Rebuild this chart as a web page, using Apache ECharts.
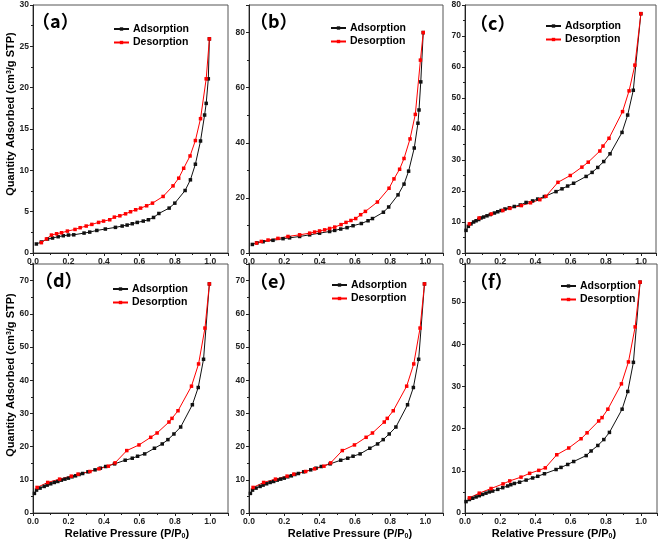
<!DOCTYPE html>
<html><head><meta charset="utf-8">
<script src="https://cdn.jsdelivr.net/npm/echarts@6/dist/echarts.min.js"></script>
<style>html,body{margin:0;padding:0;background:#fff}#c{width:661px;height:542px}</style>
</head><body><div id="c"></div>
<script>
// ---- data (P/P0, quantity adsorbed cm3/g STP) ----
const aAdsX=[0.019,0.047,0.082,0.11,0.142,0.171,0.2,0.23,0.288,0.32,0.36,0.408,0.465,0.503,0.531,0.56,0.588,0.622,0.651,0.68,0.71,0.768,0.8,0.858,0.888,0.916,0.945,0.968,0.977,0.989,0.995];
const aAdsY=[1.09,1.33,1.69,1.81,1.97,2.09,2.17,2.2,2.41,2.53,2.73,2.9,3.1,3.26,3.38,3.54,3.7,3.86,4.02,4.3,4.78,5.43,6.03,7.56,8.85,10.74,13.55,16.69,18.1,21.07,25.9];
const aDesX=[0.995,0.977,0.945,0.916,0.886,0.85,0.822,0.79,0.734,0.674,0.641,0.607,0.579,0.55,0.522,0.49,0.459,0.433,0.398,0.37,0.332,0.3,0.266,0.237,0.194,0.161,0.133,0.104,0.076,0.047];
const aDesY=[25.9,21.07,16.25,13.6,11.74,10.25,9.05,8.12,6.84,6.03,5.71,5.43,5.23,4.99,4.74,4.5,4.34,4.02,3.86,3.7,3.46,3.26,3.06,2.85,2.65,2.45,2.33,2.17,1.7,1.25];

const bAdsX=[0.019,0.045,0.08,0.136,0.193,0.23,0.287,0.344,0.4,0.457,0.486,0.52,0.556,0.59,0.637,0.675,0.70,0.762,0.792,0.845,0.879,0.905,0.937,0.958,0.964,0.974,0.988];
const bAdsY=[3.1,3.7,4.1,4.6,5.2,5.5,6.0,6.6,7.2,7.8,8.2,8.7,9.2,9.9,10.7,11.7,12.5,14.8,16.7,21.1,25.0,29.7,38.1,47.1,51.9,62.1,80];
const bDesX=[0.988,0.972,0.943,0.913,0.879,0.854,0.822,0.794,0.728,0.66,0.633,0.605,0.578,0.55,0.522,0.486,0.457,0.429,0.4,0.372,0.344,0.287,0.221,0.164,0.108,0.07,0.042];
const bDesY=[80,70,50.3,41.4,34.3,30.4,26.9,23.5,18.5,15.1,13.9,12.5,11.8,11.1,10.3,9.4,8.9,8.4,8.0,7.6,7.2,6.6,6.0,5.3,4.7,4.2,3.6];

const cAdsX=[0.006,0.019,0.034,0.049,0.063,0.078,0.091,0.106,0.125,0.144,0.167,0.186,0.205,0.227,0.252,0.28,0.314,0.347,0.384,0.413,0.451,0.517,0.551,0.583,0.617,0.688,0.722,0.754,0.788,0.824,0.892,0.924,0.956,0.999];
const cAdsY=[7.3,8.6,9.4,10.0,10.4,10.8,11.3,11.6,12.0,12.4,12.9,13.3,13.7,14.2,14.6,15.0,15.5,16.3,16.8,17.4,18.2,19.8,20.7,21.6,22.5,24.7,26.0,27.6,29.5,32.0,38.9,44.5,52.5,77.2];
const cDesX=[0.999,0.965,0.932,0.895,0.818,0.784,0.766,0.70,0.664,0.598,0.528,0.46,0.425,0.372,0.32,0.255,0.215,0.15,0.08,0.025];
const cDesY=[77.2,60.6,52.3,45.6,37.0,34.5,32.9,29.3,27.7,25.0,22.8,18.3,17.2,16.2,15.3,14.4,13.7,12.6,11.3,9.4];

const dAdsX=[0.008,0.02,0.04,0.063,0.08,0.1,0.12,0.14,0.16,0.18,0.2,0.22,0.24,0.26,0.28,0.31,0.35,0.38,0.41,0.46,0.52,0.56,0.59,0.63,0.685,0.729,0.761,0.795,0.833,0.899,0.932,0.962,0.995];
const dAdsY=[5.9,6.9,7.5,8.0,8.4,8.8,9.2,9.5,9.9,10.2,10.5,10.9,11.2,11.6,11.9,12.4,13.0,13.5,14.0,14.8,15.9,16.5,17.1,17.8,19.5,20.8,22.1,23.8,25.9,32.6,37.8,46.3,69];
const dDesX=[0.995,0.97,0.934,0.894,0.818,0.784,0.767,0.70,0.664,0.598,0.529,0.463,0.425,0.372,0.321,0.254,0.216,0.15,0.083,0.023];
const dDesY=[69,55.7,44.9,38.2,30.8,28.5,27.4,24.1,22.8,20.5,18.8,15.1,14.1,13.3,12.5,11.7,11.1,10.2,9.2,7.7];

const eAdsX=[0.008,0.02,0.04,0.063,0.08,0.1,0.12,0.14,0.16,0.18,0.2,0.22,0.24,0.26,0.28,0.31,0.35,0.38,0.41,0.46,0.52,0.56,0.59,0.63,0.685,0.729,0.761,0.795,0.833,0.899,0.932,0.962,0.995];
const eAdsY=[5.9,6.9,7.5,8.0,8.4,8.8,9.2,9.5,9.9,10.2,10.5,10.9,11.2,11.6,11.9,12.4,13.0,13.5,14.0,14.8,15.9,16.5,17.1,17.8,19.5,20.8,22.1,23.8,25.9,32.6,37.8,46.3,69];
const eDesX=[0.995,0.97,0.934,0.894,0.818,0.784,0.767,0.70,0.664,0.598,0.529,0.463,0.425,0.372,0.321,0.254,0.216,0.15,0.083,0.023];
const eDesY=[69,55.7,44.9,38.2,30.8,28.5,27.4,24.1,22.8,20.5,18.8,15.1,14.1,13.3,12.5,11.7,11.1,10.2,9.2,7.7];

const fAdsX=[0.006,0.025,0.044,0.063,0.081,0.1,0.119,0.138,0.157,0.186,0.214,0.242,0.26,0.28,0.31,0.347,0.384,0.413,0.451,0.517,0.545,0.583,0.617,0.688,0.716,0.754,0.788,0.82,0.892,0.924,0.956,0.994];
const fAdsY=[2.7,3.2,3.5,3.8,4.1,4.4,4.7,5.0,5.2,5.6,6.0,6.4,6.7,7.0,7.3,7.8,8.3,8.7,9.3,10.3,10.8,11.5,12.2,13.6,14.7,16.0,17.4,19.1,24.6,28.8,35.7,54.7];
const fDesX=[0.994,0.966,0.928,0.888,0.811,0.778,0.759,0.693,0.659,0.589,0.521,0.456,0.419,0.367,0.318,0.254,0.216,0.148,0.081,0.025];
const fDesY=[54.7,44.1,35.8,30.6,24.6,22.6,21.8,19.0,17.6,15.4,13.8,10.7,10.1,9.4,8.5,7.6,6.9,5.8,4.7,3.6];

const panelLabels=['（a）','（b）','（c）','（d）','（e）','（f）'];
const yMaxes=[30,90,80,75,75,59];
const yIntervals=[5,20,10,10,10,10];
const xMaxes=[1.1,1.1,1.085,1.1,1.1,1.09];
const seriesNames=['Adsorption','Desorption'];
const xTitle='{a|Relative Pressure (P/P}{s|0}{a|)}';
const yTitle='{a|Quantity Adsorbed (cm}{s|3}{a|/g STP)}';

const panels=[
  [aAdsX,aAdsY,aDesX,aDesY],[bAdsX,bAdsY,bDesX,bDesY],[cAdsX,cAdsY,cDesX,cDesY],
  [dAdsX,dAdsY,dDesX,dDesY],[eAdsX,eAdsY,eDesX,eDesY],[fAdsX,fAdsY,fDesX,fDesY]
];

// ---- layout ----
const grids=[
  {left:33,top:5,width:195,height:248},
  {left:249,top:5,width:194,height:248},
  {left:465,top:5,width:191,height:248},
  {left:33,top:264,width:195,height:249},
  {left:249,top:264,width:194,height:249},
  {left:465,top:264,width:192,height:249}
];
// [left of legend line, centre y of first row]
const legendPos=[[113,29],[330,28],[545,26],[112,289],[331,285],[560,286]];
const labelPos=[[32,12],[250,12],[470,14],[35,271],[250,272],[470,272]];

const zip=(xs,ys)=>xs.map((x,i)=>[x,ys[i]]);
const fontFam='Arial, "Liberation Sans", sans-serif';
const axisCommon={
  axisLine:{show:true,lineStyle:{color:'#222',width:1}},
  axisTick:{show:true,inside:false,length:3,lineStyle:{color:'#222'}},
  minorTick:{show:true,splitNumber:2,length:2,lineStyle:{color:'#222'}},
  splitLine:{show:false}
};
const legH=4.2;

const option={
  animation:false,
  backgroundColor:'#fff',
  grid:grids.map(g=>Object.assign({show:true,borderColor:'#555',borderWidth:1,containLabel:false},g)),
  xAxis:grids.map((g,i)=>Object.assign({
    type:'value',gridIndex:i,min:0,max:xMaxes[i],interval:0.2,
    axisLabel:{margin:4,fontSize:8.5,fontWeight:'bold',color:'#222',fontFamily:fontFam,
      formatter:v=>v>1.001?'':v.toFixed(1)}
  },axisCommon)),
  yAxis:grids.map((g,i)=>Object.assign({
    type:'value',gridIndex:i,min:0,max:yMaxes[i],interval:yIntervals[i],
    axisLabel:{margin:4,fontSize:8.5,fontWeight:'bold',color:'#222',fontFamily:fontFam,
      formatter:v=>(Math.abs(v/yIntervals[i]-Math.round(v/yIntervals[i]))<1e-6)?String(v):''}
  },axisCommon)),
  legend:legendPos.map(p=>({
    data:seriesNames,orient:'vertical',left:p[0],top:p[1]-5.5,padding:0,
    itemWidth:15,itemHeight:legH,itemGap:2.5,selectedMode:false,
    textStyle:{fontSize:10.5,fontWeight:'bold',color:'#000',fontFamily:fontFam,padding:[0,0,0,-1]}
  })),
  title:labelPos.map((p,i)=>({
    text:panelLabels[i],left:p[0],top:p[1],padding:0,
    textStyle:{fontSize:18,fontWeight:'bold',color:'#000',fontFamily:'"Noto Sans CJK SC", sans-serif'}
  })),
  graphic:[
    ...[0,3].map(i=>({type:'text',x:11,y:i===0?114:375,rotation:Math.PI/2,
      style:{text:yTitle,align:'center',verticalAlign:'middle',
        rich:{a:{fontSize:11,fontWeight:'bold',fontFamily:fontFam,fill:'#000'},
              s:{fontSize:7,fontWeight:'bold',fontFamily:fontFam,fill:'#000',verticalAlign:'top'}}}})),
    ...[[127,0],[350,0],[554,0]].map(p=>({type:'text',x:p[0],y:534,
      style:{text:xTitle,align:'center',verticalAlign:'middle',
        rich:{a:{fontSize:11,fontWeight:'bold',fontFamily:fontFam,fill:'#000'},
              s:{fontSize:7,fontWeight:'bold',fontFamily:fontFam,fill:'#000',verticalAlign:'bottom'}}}}))
  ],
  series:[]
};
panels.forEach((p,i)=>{
  option.series.push({name:'Adsorption',type:'line',xAxisIndex:i,yAxisIndex:i,data:zip(p[0],p[1]),
    symbol:'rect',symbolSize:3.5,showSymbol:true,color:'#111',lineStyle:{color:'#111',width:1},itemStyle:{color:'#111'}});
  option.series.push({name:'Desorption',type:'line',xAxisIndex:i,yAxisIndex:i,data:zip(p[2],p[3]),
    symbol:'rect',symbolSize:3.5,showSymbol:true,color:'#ff0000',lineStyle:{color:'#ff0000',width:1},itemStyle:{color:'#ff0000'}});
});
const chart=echarts.init(document.getElementById('c'),null,{renderer:'canvas'});
chart.setOption(option);
</script></body></html>
